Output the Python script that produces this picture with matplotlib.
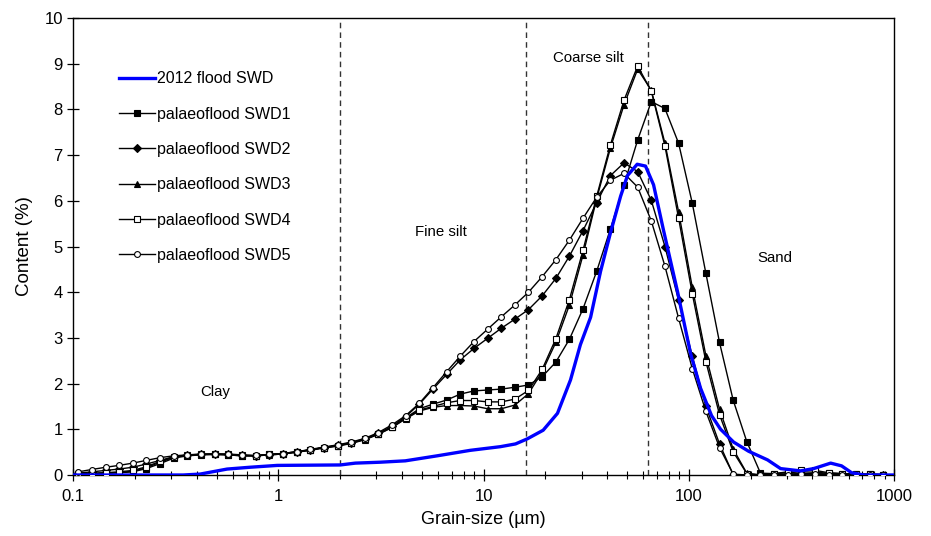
import matplotlib
matplotlib.use("Agg")
import matplotlib.pyplot as plt
from matplotlib.ticker import FixedLocator, NullFormatter, LogLocator

plt.rcParams['font.family'] = ['Liberation Sans', 'DejaVu Sans']

SIZES = [0.106, 0.123, 0.144, 0.167, 0.195, 0.227, 0.265, 0.309, 0.360, 0.419,
         0.489, 0.569, 0.664, 0.774, 0.902, 1.05, 1.23, 1.43, 1.66, 1.94,
         2.26, 2.63, 3.07, 3.58, 4.17, 4.86, 5.66, 6.60, 7.69, 8.97,
         10.45, 12.18, 14.19, 16.54, 19.28, 22.47, 26.18, 30.51, 35.56, 41.45,
         48.31, 56.30, 65.61, 76.47, 89.13, 103.9, 121.1, 141.1, 164.4, 191.6,
         223.4, 260.3, 303.4, 353.6, 412.1, 480.3, 559.8, 652.4, 760.3, 886.1]

SWD1 = [0.02, 0.03, 0.04, 0.05, 0.07, 0.14, 0.25, 0.37, 0.42, 0.44,
        0.45, 0.44, 0.42, 0.42, 0.45, 0.47, 0.51, 0.55, 0.60, 0.64,
        0.70, 0.78, 0.90, 1.05, 1.25, 1.45, 1.55, 1.64, 1.77, 1.84,
        1.86, 1.88, 1.92, 1.97, 2.15, 2.47, 2.97, 3.64, 4.46, 5.38,
        6.35, 7.33, 8.17, 8.02, 7.26, 5.95, 4.41, 2.90, 1.64, 0.73,
        0.04, 0.03, 0.05, 0.07, 0.06, 0.04, 0.03, 0.02, 0.02, 0.01]
SWD2 = [0.04, 0.07, 0.10, 0.13, 0.17, 0.24, 0.32, 0.40, 0.43, 0.45,
        0.46, 0.45, 0.43, 0.42, 0.44, 0.46, 0.50, 0.55, 0.60, 0.65,
        0.71, 0.79, 0.91, 1.07, 1.28, 1.55, 1.88, 2.20, 2.52, 2.77,
        2.99, 3.21, 3.41, 3.62, 3.92, 4.30, 4.79, 5.35, 5.96, 6.55,
        6.83, 6.64, 6.01, 5.00, 3.82, 2.60, 1.50, 0.68, 0.01, 0.0,
        0.0, 0.01, 0.02, 0.02, 0.02, 0.02, 0.01, 0.01, 0.0, 0.0]
SWD3 = [0.02, 0.03, 0.04, 0.05, 0.08, 0.16, 0.28, 0.39, 0.43, 0.45,
        0.45, 0.44, 0.42, 0.42, 0.44, 0.46, 0.50, 0.54, 0.59, 0.63,
        0.69, 0.77, 0.89, 1.04, 1.23, 1.40, 1.48, 1.52, 1.52, 1.51,
        1.45, 1.45, 1.53, 1.78, 2.26, 2.90, 3.72, 4.82, 6.05, 7.15,
        8.10, 8.88, 8.42, 7.26, 5.76, 4.11, 2.61, 1.44, 0.57, 0.04,
        0.0, 0.01, 0.02, 0.03, 0.03, 0.02, 0.02, 0.01, 0.01, 0.0]
SWD4 = [0.03, 0.04, 0.05, 0.07, 0.10, 0.18, 0.30, 0.40, 0.44, 0.45,
        0.46, 0.45, 0.43, 0.42, 0.45, 0.47, 0.51, 0.55, 0.60, 0.64,
        0.70, 0.78, 0.90, 1.05, 1.24, 1.42, 1.50, 1.58, 1.63, 1.63,
        1.60, 1.60, 1.66, 1.85, 2.31, 2.98, 3.84, 4.92, 6.10, 7.22,
        8.20, 8.95, 8.40, 7.20, 5.62, 3.97, 2.48, 1.32, 0.51, 0.03,
        0.0, 0.03, 0.07, 0.12, 0.10, 0.05, 0.03, 0.02, 0.02, 0.01]
SWD5 = [0.07, 0.12, 0.17, 0.21, 0.26, 0.32, 0.38, 0.42, 0.44, 0.46,
        0.46, 0.46, 0.44, 0.43, 0.45, 0.47, 0.51, 0.56, 0.61, 0.66,
        0.72, 0.80, 0.93, 1.10, 1.30, 1.57, 1.91, 2.26, 2.60, 2.92,
        3.19, 3.46, 3.72, 4.00, 4.34, 4.71, 5.14, 5.62, 6.08, 6.45,
        6.60, 6.30, 5.56, 4.57, 3.43, 2.33, 1.39, 0.60, 0.02, 0.0,
        0.0, 0.0, 0.01, 0.02, 0.02, 0.01, 0.01, 0.0, 0.0, 0.0]

FLOOD_SIZES = [0.1, 0.343, 0.415, 0.562, 0.728, 0.986, 2.0, 2.37, 3.13, 4.15,
               5.94, 8.61, 12.07, 14.3, 16.3, 19.5, 22.9, 26.5, 29.6, 33.2,
               37.1, 41.5, 46.5, 50.2, 56.0, 61.5, 67.3, 75.3, 88.2, 101.9,
               114.0, 129.0, 142.8, 165.3, 195.5, 242.0, 280.0, 350.6, 405.6, 491.0,
               555.0, 621.0, 711.0, 1000.0]
FLOOD_2012 = [0.0, 0.0, 0.02, 0.13, 0.17, 0.21, 0.22, 0.26, 0.28, 0.31,
              0.42, 0.54, 0.62, 0.68, 0.79, 0.98, 1.35, 2.08, 2.85, 3.45,
              4.45, 5.30, 6.10, 6.55, 6.80, 6.76, 6.35, 5.35, 4.00, 2.66,
              1.90, 1.30, 1.00, 0.72, 0.52, 0.33, 0.14, 0.09, 0.14, 0.26,
              0.20, 0.05, 0.0, 0.0]

BOUNDARIES = [2, 16, 63]
ZONE_LABELS = [("Clay", 0.49, 1.82), ("Fine silt", 6.2, 5.32),
               ("Coarse silt", 32.4, 9.12), ("Sand", 262, 4.75)]
X_TICKS = [0.1, 1, 10, 100, 1000]
X_TICK_LABELS = ["0.1", "1", "10", "100", "1000"]

fig = plt.figure(figsize=(9.31, 5.36), dpi=100)
ax = fig.add_axes([0.0787, 0.1138, 0.8816, 0.8526])

ms = 4.2
series = [
    ("palaeoflood SWD1", SWD1, dict(marker='s', mfc='black', ms=ms)),
    ("palaeoflood SWD2", SWD2, dict(marker='D', mfc='black', ms=ms - 0.6)),
    ("palaeoflood SWD3", SWD3, dict(marker='^', mfc='black', ms=ms + 0.6)),
    ("palaeoflood SWD4", SWD4, dict(marker='s', mfc='white', ms=ms)),
    ("palaeoflood SWD5", SWD5, dict(marker='o', mfc='white', ms=ms)),
]
handles = []
for name, vals, st in series:
    h, = ax.plot(SIZES, vals, color='black', lw=1.0, mec='black', mew=0.8,
                 label=name, zorder=3, **st)
    handles.append(h)
hb, = ax.plot(FLOOD_SIZES, FLOOD_2012, color='#0000ff', lw=2.4,
              label="2012 flood SWD", zorder=4, solid_joinstyle='round')
handles = [hb] + handles

for b in BOUNDARIES:
    ax.axvline(b, color='#333333', lw=1.0, ls=(0, (4, 3)), zorder=2)

for txt, x, y in ZONE_LABELS:
    ax.text(x, y, txt, ha='center', va='center', fontsize=10.8)

ax.set_xscale('log')
ax.set_xlim(0.1, 1000)
ax.set_ylim(0, 10)
ax.xaxis.set_major_locator(FixedLocator(X_TICKS))
ax.set_xticklabels(X_TICK_LABELS)
ax.xaxis.set_minor_locator(LogLocator(base=10, subs=range(2, 10)))
ax.xaxis.set_minor_formatter(NullFormatter())
ax.set_yticks(range(0, 11))
ax.tick_params(axis='both', which='major', direction='inout', length=8,
               width=0.9, labelsize=12)
ax.tick_params(axis='x', which='minor', direction='inout', length=6, width=0.8)
ax.tick_params(axis='x', pad=6)
for s in ax.spines.values():
    s.set_linewidth(1.0)

ax.set_xlabel("Grain-size (µm)", fontsize=13, labelpad=5)
ax.set_ylabel("Content (%)", fontsize=13.5, labelpad=8)

leg = ax.legend(handles=handles, loc='upper left', bbox_to_anchor=(0.048, 0.897),
                frameon=False, fontsize=11.5, handlelength=2.25, handletextpad=0.15,
                labelspacing=1.27, borderaxespad=0)

fig.savefig("out.png", dpi=100)
